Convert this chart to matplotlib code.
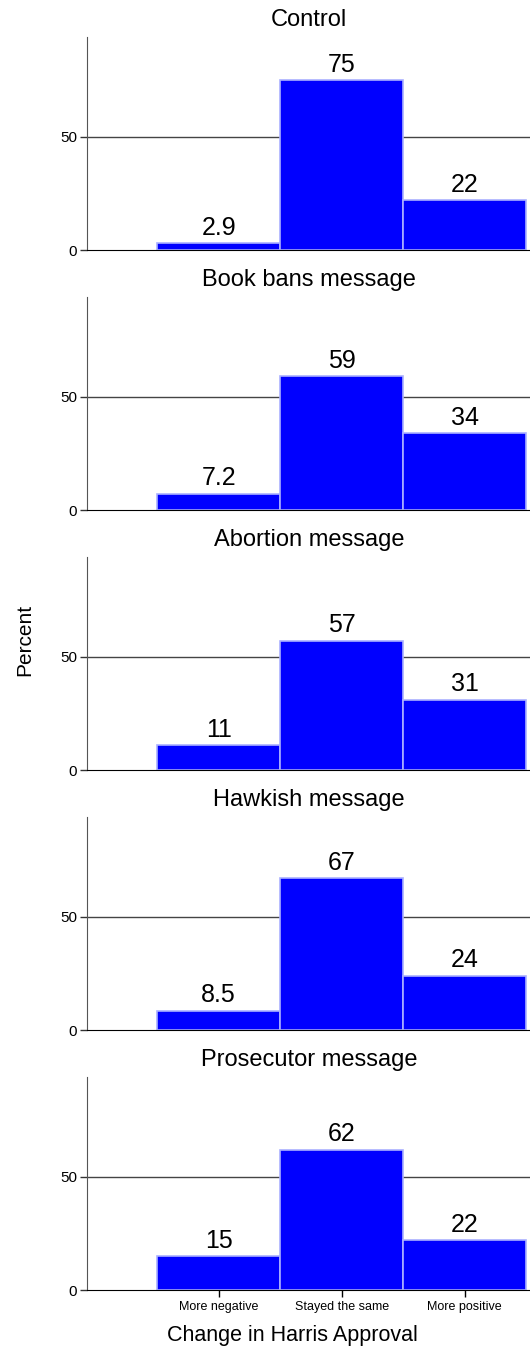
import matplotlib
matplotlib.use('Agg')
import matplotlib.pyplot as plt
import numpy as np

plt.rcParams['font.family'] = ['Liberation Sans', 'DejaVu Sans']

# ===== data =====
categories = ['More negative', 'Stayed the same', 'More positive']
panels = ['Control', 'Book bans message', 'Abortion message',
          'Hawkish message', 'Prosecutor message']
pct_control = [2.9, 75, 22]
pct_book_bans = [7.2, 59, 34]
pct_abortion = [11, 57, 31]
pct_hawkish = [8.5, 67, 24]
pct_prosecutor = [15, 62, 22]
labels_control = ['2.9', '75', '22']
labels_book_bans = ['7.2', '59', '34']
labels_abortion = ['11', '57', '31']
labels_hawkish = ['8.5', '67', '24']
labels_prosecutor = ['15', '62', '22']

series = [pct_control, pct_book_bans, pct_abortion, pct_hawkish, pct_prosecutor]
bar_labels = [labels_control, labels_book_bans, labels_abortion,
              labels_hawkish, labels_prosecutor]

W, H = 530, 1350
fig = plt.figure(figsize=(W / 100, H / 100), dpi=100)

x = np.arange(1, len(categories) + 1)
left_px, right_px = 87, 531
top0, bot0, step = 37, 250, 260

axes = []
for i, (name, vals, labs) in enumerate(zip(panels, series, bar_labels)):
    top = top0 + step * i
    bot = bot0 + step * i
    ax = fig.add_axes([left_px / W, 1 - bot / H, (right_px - left_px) / W, (bot - top) / H])
    ax.axhline(50, color='#444444', linewidth=1, zorder=0)
    bars = ax.bar(x, vals, width=1.0, color='#0000ff', edgecolor='#aab0ff',
                  linewidth=1.2, zorder=2)
    for b, lab in zip(bars, labs):
        ax.text(b.get_x() + b.get_width() / 2, b.get_height() + 1.5, lab,
                ha='center', va='bottom', fontsize=18, color='black')
    ax.set_xlim(-0.07, 3.54)
    ax.set_ylim(0, 94)
    ax.set_yticks([0, 50])
    ax.tick_params(axis='y', labelsize=11, length=5, width=1, color='#333333', pad=2)
    for s in ['top', 'right']:
        ax.spines[s].set_visible(False)
    ax.spines['left'].set_color('#555555')
    ax.spines['bottom'].set_color('black')
    ax.set_title(name, fontsize=17, pad=8)
    if i < len(panels) - 1:
        ax.set_xticks([])
    else:
        ax.set_xticks(x)
        ax.set_xticklabels(categories, fontsize=9)
        ax.tick_params(axis='x', length=5, width=1, pad=3)
    axes.append(ax)

fig.text(25 / W, 1 - 640 / H, 'Percent', rotation=90, ha='center', va='center',
         fontsize=15)
fig.text(292 / W, 1 - 1335 / H, 'Change in Harris Approval', ha='center',
         va='center', fontsize=15.5)

fig.savefig('out.png', dpi=100, facecolor='white')
